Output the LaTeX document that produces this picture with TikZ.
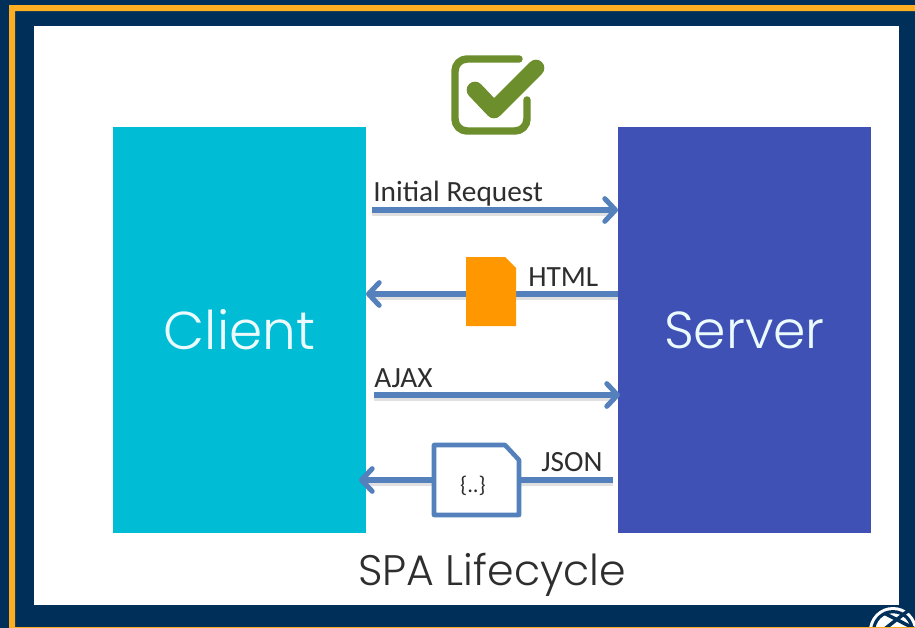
\documentclass[tikz,border=0pt]{standalone}
\usepackage{fontspec}
\setmainfont{Carlito}
\newfontfamily\bigfont{Poppins Light}
\usetikzlibrary{arrows.meta}
\definecolor{navy}{HTML}{00305A}
\definecolor{amber}{HTML}{FDAE22}
\definecolor{cyanbox}{HTML}{00BCD4}
\definecolor{indigobox}{HTML}{3F51B5}
\definecolor{arrowblue}{HTML}{5480BC}
\definecolor{docorange}{HTML}{FF9800}
\definecolor{checkgreen}{HTML}{6C8E2C}
\definecolor{labelgrey}{HTML}{2E2E2E}
\tikzset{
  panel/.style={draw=none,minimum width=190pt,minimum height=304.5pt,inner sep=0pt,text=white!92!cyanbox},
  flow/.style={draw=arrowblue,line width=4pt,-{Straight Barb[length=8pt,width=17pt,line width=3.8pt,round]}},
  shade/.style={draw=black,line width=3pt,opacity=.12},
  lbl/.style={inner sep=0pt,text=labelgrey,font=\fontsize{22}{25}\selectfont}
}
\begin{document}
\begin{tikzpicture}[x=.75pt,y=-.75pt]
\useasboundingbox (0,0) rectangle (915,628);
\fill[navy] (0,0) rectangle (915,628);
% frame
\fill[amber] (9,628) -- (9,5) -- (915,5) -- (915,11) -- (15,11) -- (15,628) -- cycle;
\fill[amber] (15,626.5) rectangle (915,628);
\fill[white] (34,26) rectangle (899,605);
% globe
\begin{scope}
\clip (860,600) rectangle (915,626.5);
\fill[white] (893,631) circle (18pt);
\draw[navy,line width=2.4pt] (893,631) circle (14.5pt);
\draw[navy,line width=2.6pt] (884,613) -- (915,629) (909,610) -- (882,631);
\end{scope}
% check
\draw[checkgreen,line width=5.6pt,line cap=round,line join=round,rounded corners=9pt]
  (519,59) -- (455,59) -- (455,131) -- (527,131) -- (527,100);
\draw[checkgreen,line width=12.5pt,line cap=round,line join=round] (475,90) -- (494,110) -- (536,68);
% panels
\node[panel,fill=cyanbox,font=\bigfont\fontsize{40}{44}\selectfont] (client) at (239.5,330) {Client};
\node[panel,fill=indigobox,font=\bigfont\fontsize{39}{44}\selectfont] (server) at (744.5,330) {Server};
% connector ends
\coordinate (a1) at (372,210); \coordinate (b1) at (618,210);
\coordinate (a2) at (618,294); \coordinate (b2) at (366,294);
\coordinate (a3) at (374,395); \coordinate (b3) at (620,395);
\coordinate (a4) at (613,480); \coordinate (b4) at (359,480);
\coordinate (s1a) at (372,214); \coordinate (s1b) at (612,214);
\coordinate (s2a) at (618,298); \coordinate (s2b) at (372,298);
\coordinate (s3a) at (374,399); \coordinate (s3b) at (614,399);
\coordinate (s4a) at (613,484); \coordinate (s4b) at (365,484);
\draw[shade] (s1a) -- (s1b); \draw[shade] (s2a) -- (s2b);
\draw[shade] (s3a) -- (s3b); \draw[shade] (s4a) -- (s4b);
\draw[flow] (a1) -- (b1);
\draw[flow] (a2) -- (b2);
\draw[flow] (a3) -- (b3);
\draw[flow] (a4) -- (b4);
% documents
\fill[docorange] (466,257) -- (505,257) -- (516,268) -- (516,326) -- (466,326) -- cycle;
\draw[arrowblue,fill=white,line width=3.4pt,line join=round] (434,445) -- (505,445) -- (519,460) -- (519,515) -- (434,515) -- cycle;
\node[inner sep=0pt,text=labelgrey,font=\fontsize{17}{20}\selectfont] (jsondoc) at (473,486) {\{..\}};
% labels
\node[lbl,anchor=base west] (l1) at (373,201) {Initial Request};
\node[lbl,anchor=base west] (l2) at (528,286) {HTML};
\node[lbl,anchor=base west] (l3) at (374,387) {AJAX};
\node[lbl,anchor=base west] (l4) at (541,471) {JSON};
\node[inner sep=0pt,anchor=base,text=labelgrey,font=\bigfont\fontsize{32}{36}\selectfont] (title) at (492,585) {SPA Lifecycle};
\end{tikzpicture}
\end{document}
